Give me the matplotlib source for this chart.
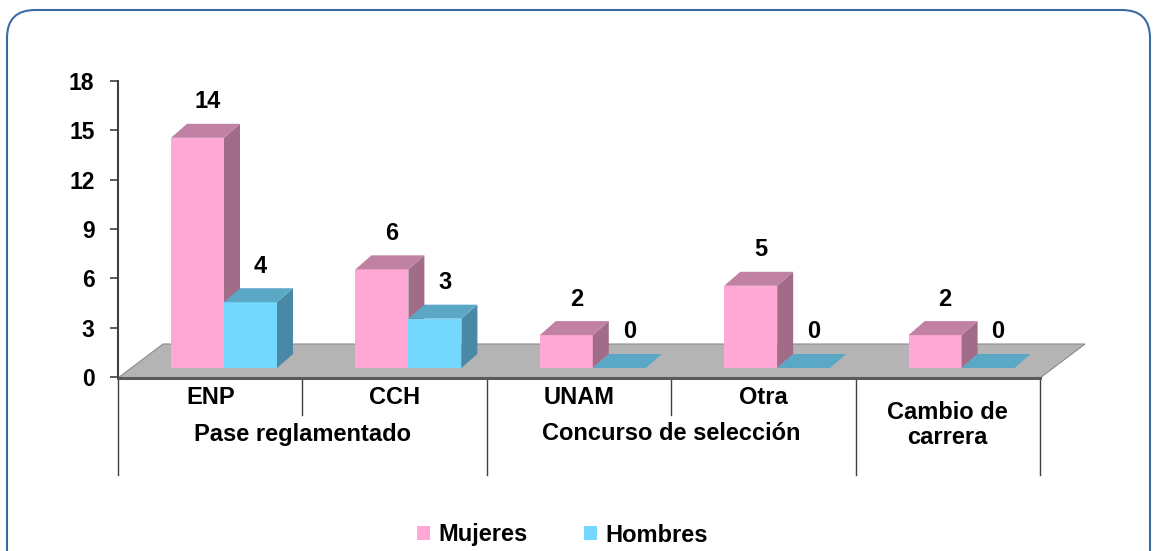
import matplotlib.pyplot as plt
from matplotlib.patches import Polygon, FancyBboxPatch, Patch

plt.rcParams['font.family'] = ['Liberation Sans', 'DejaVu Sans']
plt.rcParams['font.weight'] = 'bold'

# data
categories = ['ENP', 'CCH', 'UNAM', 'Otra', 'Cambio de\ncarrera']
groups = ['Pase reglamentado', 'Concurso de selección', '']
group_spans = [(0, 2), (2, 4), (4, 5)]
mujeres = [14, 6, 2, 5, 2]
hombres = [4, 3, 0, 0, 0]
yticks = [0, 3, 6, 9, 12, 15, 18]

# colours (front, top, side)
pink = ('#ffa8d6', '#c081a2', '#a16c88')
cyan = ('#74d7fd', '#5ba7c6', '#4a89a5')

FS = 17

W, H = 1155, 551
fig = plt.figure(figsize=(W / 100, H / 100), dpi=100)

# background frame
bg = fig.add_axes([0, 0, 1, 1])
bg.set_xlim(0, W)
bg.set_ylim(H, 0)
bg.axis('off')
bg.add_patch(FancyBboxPatch((7, 10), 1143, 620, boxstyle='round,pad=0,rounding_size=28',
                            fc='white', ec='#3b6ba5', lw=1.5))

left, right, top, bottom = 118, 1040, 81, 377
ax = fig.add_axes([left / W, 1 - bottom / H, (right - left) / W, (bottom - top) / H])
ax.patch.set_alpha(0)
ax.set_xlim(0, len(categories))
ax.set_ylim(0, 18)

pxx = (right - left) / len(categories)   # pixels per category
pxy = (bottom - top) / 18                # pixels per unit

def px(dx=0, dy=0):
    return dx / pxx, dy / pxy

# floor
fdx, fdy = px(45, 34)
f0 = px(0, -1)[1]
ax.add_patch(Polygon([(0, f0), (5, f0), (5 + fdx, f0 + fdy), (fdx, f0 + fdy)],
                     closed=True, fc='#b4b4b4', ec='#8a8a8a', lw=0.8, clip_on=False, zorder=1))

DX, DY = px(16, 14)
base = px(0, 9)[1]
bw = 53 / pxx

def bar3d(x0, v, cols):
    y0, y1 = base, base + v
    if v > 0:
        ax.add_patch(Polygon([(x0, y0), (x0 + bw, y0), (x0 + bw, y1), (x0, y1)],
                             fc=cols[0], ec='none', clip_on=False, zorder=2))
        ax.add_patch(Polygon([(x0 + bw, y0), (x0 + bw + DX, y0 + DY), (x0 + bw + DX, y1 + DY), (x0 + bw, y1)],
                             fc=cols[2], ec='none', clip_on=False, zorder=2))
    ax.add_patch(Polygon([(x0, y1), (x0 + bw, y1), (x0 + bw + DX, y1 + DY), (x0 + DX, y1 + DY)],
                         fc=cols[1], ec='none', clip_on=False, zorder=2))
    ax.text(x0 + bw / 2 + px(10)[0], y1 + DY + px(0, 22)[1], str(v),
            ha='center', va='center', fontsize=FS, fontweight='bold', clip_on=False)

for i in range(len(categories)):
    bar3d(i + bw, mujeres[i], pink)
    bar3d(i + 2 * bw, hombres[i], cyan)

# axes styling
for s in ['top', 'right', 'bottom']:
    ax.spines[s].set_visible(False)
ax.spines['left'].set_color('#404040')
ax.spines['left'].set_linewidth(1.5)
ax.spines['left'].set_zorder(3)
ax.set_yticks(yticks)
ax.set_yticklabels([str(t) for t in yticks], fontsize=16.5, fontweight='bold')
ax.tick_params(axis='y', length=6, width=1.2, color='#404040', pad=11)
ax.set_xticks([])

# category axis line and separators
ax.plot([0, 5], [f0, f0], color='#5a5a5a', lw=2.2, clip_on=False, zorder=3)
y_full = px(0, -98)[1]
y_short = px(0, -38)[1]
for b in [0, 2, 4, 5]:
    ax.plot([b, b], [f0, y_full], color='#404040', lw=1, clip_on=False)
for b in [1, 3]:
    ax.plot([b, b], [f0, y_short], color='#404040', lw=1, clip_on=False)

for i, c in enumerate(categories):
    yy = px(0, -21)[1] if '\n' not in c else px(0, -48)[1]
    ax.text(i + 0.5, yy, c, ha='center', va='center', fontsize=FS, fontweight='bold',
            linespacing=1.15, clip_on=False)
for g, (a, b) in zip(groups, group_spans):
    if g:
        ax.text((a + b) / 2, px(0, -57)[1], g, ha='center', va='center', fontsize=FS,
                fontweight='bold', clip_on=False)

handles = [Patch(fc=pink[0], ec='none', label='Mujeres'),
           Patch(fc=cyan[0], ec='none', label='Hombres')]
leg = fig.legend(handles=handles, loc='center', bbox_to_anchor=(0.487, 1 - 535 / H), ncol=2,
                 frameon=False, fontsize=FS, handlelength=0.55, handleheight=0.55,
                 handletextpad=0.35, columnspacing=2.4)
for t in leg.get_texts():
    t.set_fontweight('bold')

fig.savefig('out.png', dpi=100)
